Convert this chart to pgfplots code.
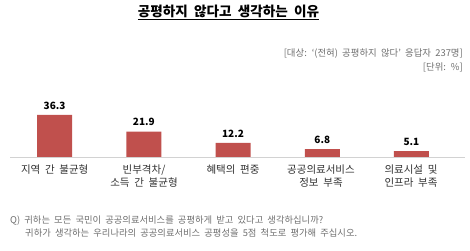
\documentclass[border=0pt]{standalone}
\usepackage{pgfplots}
\pgfplotsset{compat=1.18}
\usepackage{fontspec}
\setmainfont[WordSpace=2]{Noto Sans CJK KR}
\definecolor{barred}{RGB}{192,80,77}
\definecolor{notegray}{RGB}{110,110,110}
\definecolor{labgray}{RGB}{50,50,50}
\definecolor{axisgray}{RGB}{210,210,210}
\begin{document}
\begin{tikzpicture}[x=1pt,y=1pt]
\path[use as bounding box] (0,0) rectangle (470,250);
\begin{axis}[
  at={(10pt,93pt)}, anchor=south west,
  scale only axis, width=455pt, height=46.3pt,
  xmin=-0.5, xmax=4.6, ymin=0, ymax=40,
  axis lines=none,
  ybar, bar width=35pt,
  xtick=\empty, ytick=\empty,
  clip=false,
  nodes near coords,
  nodes near coords style={font=\fontsize{10}{12}\selectfont\bfseries, text=black, yshift=2pt, /pgf/number format/assume math mode=true, /pgf/number format/fixed, /pgf/number format/precision=1, /pgf/number format/fixed zerofill},
]
\addplot[fill=barred, draw=none] coordinates {(0,36.3) (1,21.9) (2,12.2) (3,6.8) (4,5.1)};
\draw[axisgray, line width=1pt] (axis cs:-0.5,0) -- (axis cs:4.6,0);
\end{axis}
% category labels
\foreach \xx/\la/\lb in {54.7/{지역 간 불균형}/{}, 144/{빈부격차/}/{소득 간 불균형}, 233/{혜택의 편중}/{}, 321/{공공의료서비스}/{정보 부족}, 411/{의료시설 및}/{인프라 부족}}{
  \node[anchor=base, font=\fontsize{10.5}{12}\selectfont, text=labgray, inner sep=0pt] at (\xx,77) {\la};
  \node[anchor=base, font=\fontsize{10.5}{12}\selectfont, text=labgray, inner sep=0pt] at (\xx,64) {\lb};
}
\node[anchor=base, inner sep=0pt, font=\fontsize{13.6}{16}\selectfont\bfseries, text=black] at (228.5,234) {\underline{공평하지 않다고 생각하는 이유}};
\node[anchor=base east, inner sep=0pt, font=\fontsize{9.4}{10}\selectfont, text=notegray] at (463,194) {[대상: `(전혀) 공평하지 않다' 응답자 237명]};
\node[anchor=base east, inner sep=0pt, font=\fontsize{9.4}{10}\selectfont, text=notegray] at (463,180) {[단위: \%]};
\node[anchor=base west, inner sep=0pt, font=\fontsize{9.3}{10}\selectfont, text=notegray] at (10,27) {Q) 귀하는 모든 국민이 공공의료서비스를 공평하게 받고 있다고 생각하십니까?};
\node[anchor=base west, inner sep=0pt, font=\fontsize{9.3}{10}\selectfont, text=notegray] at (25,14) {귀하가 생각하는 우리나라의 공공의료서비스 공평성을 5점 척도로 평가해 주십시오.};
\end{tikzpicture}
\end{document}
